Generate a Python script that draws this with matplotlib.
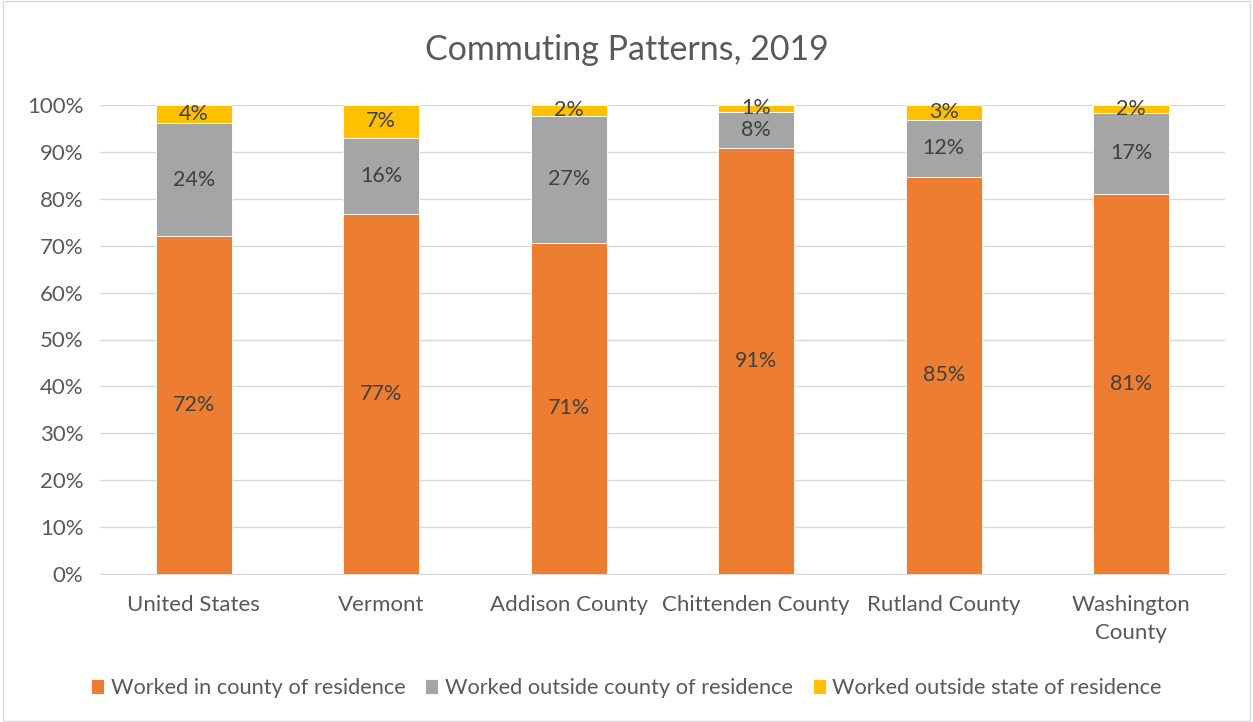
import matplotlib.pyplot as plt
import numpy as np

plt.rcParams['font.family'] = ['Lato', 'DejaVu Sans']

places = ['United States', 'Vermont', 'Addison County', 'Chittenden County',
          'Rutland County', 'Washington\nCounty']
in_county = [72.1, 76.8, 70.6, 90.8, 84.7, 81.1]
out_county = [24.0, 16.2, 27.1, 7.8, 12.2, 17.2]
out_state = [3.9, 7.0, 2.3, 1.4, 3.1, 1.7]

names = ['Worked in county of residence', 'Worked outside county of residence',
         'Worked outside state of residence']
colors = ['#ED7D31', '#A5A5A5', '#FFC000']

fig = plt.figure(figsize=(12.53, 7.22), dpi=100)
ax = fig.add_axes([100/1253, 1 - 574/722, 1125/1253, 469/722])

x = np.arange(len(places))
bottom = np.zeros(len(places))
for vals, name, c in zip([in_county, out_county, out_state], names, colors):
    bars = ax.bar(x, vals, 0.405, bottom=bottom, color=c, label=name,
                  edgecolor='white', linewidth=0.6, zorder=3)
    ax.bar_label(bars, labels=['%d%%' % round(v) for v in vals],
                 label_type='center', fontsize=15.5, color='#404040')
    bottom += np.array(vals)

ax.set_xlim(-0.5, 5.5)
ax.set_ylim(0, 100)
ax.set_yticks(np.arange(0, 101, 10))
ax.set_yticklabels(['%d%%' % v for v in range(0, 101, 10)])
ax.set_xticks(x)
ax.set_xticklabels(places, linespacing=1.5)
ax.tick_params(axis='both', length=0, labelsize=16, colors='#595959')
ax.tick_params(axis='x', pad=15)
ax.tick_params(axis='y', pad=12)
ax.grid(axis='y', color='#D9D9D9', linewidth=1, zorder=0)
for s in ['top', 'right', 'left']:
    ax.spines[s].set_visible(False)
ax.spines['bottom'].set_color('#D9D9D9')

fig.text(0.5, 1 - 50/722, 'Commuting Patterns, 2019', ha='center', va='center',
         fontsize=24.5, color='#595959')

fig.legend(loc='center', bbox_to_anchor=(0.5, 1 - 688/722), ncol=3, frameon=False,
           fontsize=15.7, labelcolor='#595959', handlelength=0.6, handleheight=0.7,
           handletextpad=0.3, columnspacing=0.9)

fig.patches.append(plt.Rectangle((0.002, 0.002), 0.996, 0.996, transform=fig.transFigure,
                                 fill=False, edgecolor='#D9D9D9', linewidth=1))

fig.savefig('out.png', dpi=100)
